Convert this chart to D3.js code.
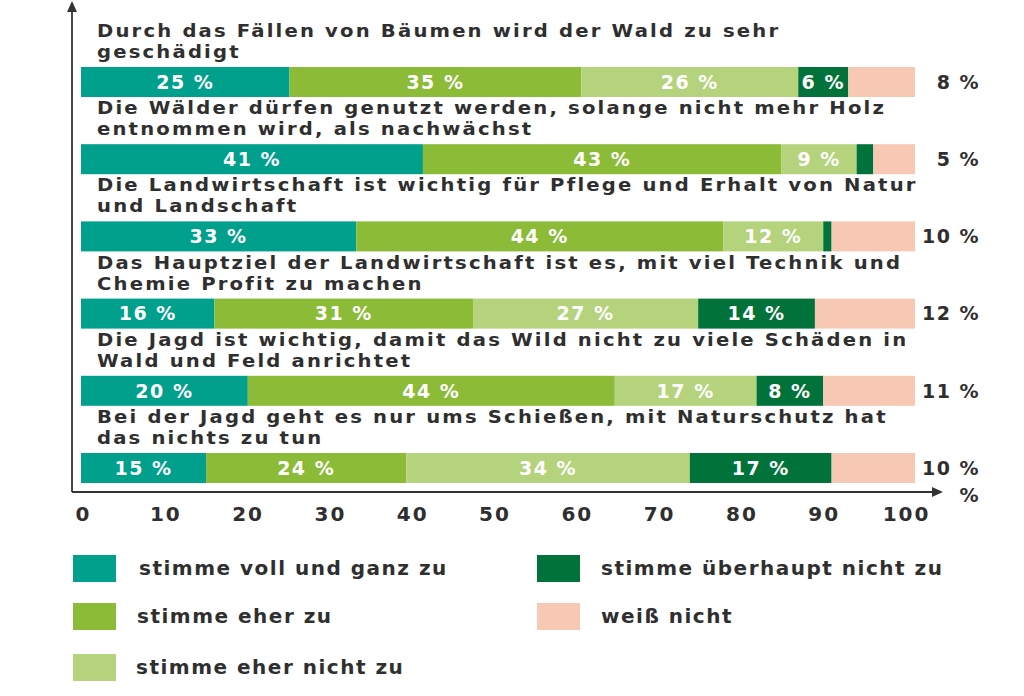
<!DOCTYPE html>
<html>
<head>
<meta charset="utf-8">
<script src="https://cdn.jsdelivr.net/npm/d3@7"></script>
<style>
  html, body { margin: 0; padding: 0; background: #fff; }
  svg { display: block; }
  text { font-family: "DejaVu Sans", sans-serif; }
</style>
</head>
<body>
<svg id="chart" width="1024" height="696"></svg>
<script>
// ---- data ----
const categories = [
  ["Durch das Fällen von Bäumen wird der Wald zu sehr", "geschädigt"],
  ["Die Wälder dürfen genutzt werden, solange nicht mehr Holz", "entnommen wird, als nachwächst"],
  ["Die Landwirtschaft ist wichtig für Pflege und Erhalt von Natur", "und Landschaft"],
  ["Das Hauptziel der Landwirtschaft ist es, mit viel Technik und", "Chemie Profit zu machen"],
  ["Die Jagd ist wichtig, damit das Wild nicht zu viele Schäden in", "Wald und Feld anrichtet"],
  ["Bei der Jagd geht es nur ums Schießen, mit Naturschutz hat", "das nichts zu tun"]
];
const seriesNames = ["stimme voll und ganz zu", "stimme eher zu", "stimme eher nicht zu", "stimme überhaupt nicht zu", "weiß nicht"];
const vollUndGanz     = [25, 41, 33, 16, 20, 15];
const eherZu          = [35, 43, 44, 31, 44, 24];
const eherNicht       = [26,  9, 12, 27, 17, 34];
const ueberhauptNicht = [ 6,  2,  1, 14,  8, 17];
const weissNicht      = [ 8,  5, 10, 12, 11, 10];
const showInside = [ [true,true,true,true], [true,true,true,false], [true,true,true,false], [true,true,true,true], [true,true,true,true], [true,true,true,true] ];
const tickValues = [0, 10, 20, 30, 40, 50, 60, 70, 80, 90, 100];
const colors = ["#00a08c", "#8bbb37", "#b4d37c", "#01733a", "#f7c8b4"];

// ---- build ----
const svg = d3.select("#chart");
const series = [vollUndGanz, eherZu, eherNicht, ueberhauptNicht, weissNicht];
const rows = categories.map((c, i) => {
  const r = { idx: i };
  seriesNames.forEach((s, j) => r[s] = series[j][i]);
  return r;
});
const stack = d3.stack().keys(seriesNames)(rows);

const x = d3.scaleLinear().domain([0, 100]).range([81, 915]);
const xTick = d3.scaleLinear().domain([0, 100]).range([83, 906]);
const yRow = d3.scaleLinear().domain([0, 5]).range([67, 453]);
const barH = 30;
const textColor = "#2f2f2f";

// category labels (two lines, slightly widened glyphs)
const catG = svg.append("g").selectAll("g").data(categories).join("g")
  .attr("transform", (d, i) => `translate(97,${yRow(i)}) scale(1.09,1)`);
catG.selectAll("text").data(d => d).join("text")
  .attr("x", 0)
  .attr("y", (d, k) => k === 0 ? -30 : -9)
  .attr("font-size", 18)
  .attr("font-weight", "bold")
  .attr("fill", textColor)
  .attr("letter-spacing", "2")
  .text(d => d);

// bars
const layerG = svg.append("g").selectAll("g").data(stack).join("g")
  .attr("fill", (d, j) => colors[j]);
layerG.selectAll("rect").data(d => d).join("rect")
  .attr("x", d => x(d[0]))
  .attr("width", d => x(d[1]) - x(d[0]))
  .attr("y", d => yRow(d.data.idx))
  .attr("height", barH);

// inside labels (first four series)
stack.slice(0, 4).forEach((layer, j) => {
  svg.append("g").selectAll("text").data(layer.filter(d => showInside[d.data.idx][j])).join("text")
    .attr("x", d => (x(d[0]) + x(d[1])) / 2)
    .attr("y", d => yRow(d.data.idx) + barH / 2)
    .attr("dy", "0.36em")
    .attr("text-anchor", "middle")
    .attr("font-size", 19)
    .attr("font-weight", "bold")
    .attr("letter-spacing", "1.5")
    .attr("fill", "#fff")
    .text(d => (d[1] - d[0]) + " %");
});

// right labels (weiß nicht)
svg.append("g").selectAll("text").data(weissNicht).join("text")
  .attr("x", 980)
  .attr("y", (d, i) => yRow(i) + barH / 2)
  .attr("dy", "0.36em")
  .attr("text-anchor", "end")
  .attr("font-size", 19)
  .attr("font-weight", "bold")
  .attr("letter-spacing", "1.5")
  .attr("fill", textColor)
  .text(d => d + " %");

// axes
const axisColor = "#333";
svg.append("line").attr("x1", 72).attr("x2", 72).attr("y1", 8).attr("y2", 492)
  .attr("stroke", axisColor).attr("stroke-width", 1.8);
svg.append("path").attr("d", "M72,1 L67,12 L77,12 Z").attr("fill", axisColor);
svg.append("line").attr("x1", 72).attr("x2", 934).attr("y1", 492).attr("y2", 492)
  .attr("stroke", axisColor).attr("stroke-width", 1.8);
svg.append("path").attr("d", "M943,492 L932,487 L932,497 Z").attr("fill", axisColor);
svg.append("text").attr("x", 969).attr("y", 495).attr("dy", "0.36em").attr("text-anchor", "middle")
  .attr("font-size", 19).attr("font-weight", "bold").attr("fill", textColor).text("%");

const axis = d3.axisBottom(xTick).tickValues(tickValues).tickSize(0).tickPadding(0);
const axG = svg.append("g").attr("transform", "translate(0,507)").call(axis);
axG.select(".domain").remove();
axG.selectAll("text")
  .attr("dy", "0.72em")
  .attr("font-size", 20)
  .attr("font-family", "DejaVu Sans, sans-serif")
  .attr("font-weight", "bold")
  .attr("letter-spacing", "2")
  .attr("fill", textColor);

// legend
const legendPos = [
  {x: 73, y: 555, tx: 139}, {x: 73, y: 603, tx: 137}, {x: 73, y: 654, tx: 136},
  {x: 537, y: 555, tx: 601}, {x: 537, y: 603, tx: 601}
];
const lg = svg.append("g").selectAll("g").data(seriesNames).join("g");
lg.append("rect")
  .attr("x", (d, j) => legendPos[j].x).attr("y", (d, j) => legendPos[j].y)
  .attr("width", 43).attr("height", 27)
  .attr("fill", (d, j) => colors[j]);
lg.append("text")
  .attr("x", (d, j) => legendPos[j].tx).attr("y", (d, j) => legendPos[j].y + 13)
  .attr("dy", "0.36em")
  .attr("font-size", 20)
  .attr("font-weight", "bold")
  .attr("letter-spacing", "1.5")
  .attr("fill", textColor)
  .text(d => d);
</script>
</body>
</html>
